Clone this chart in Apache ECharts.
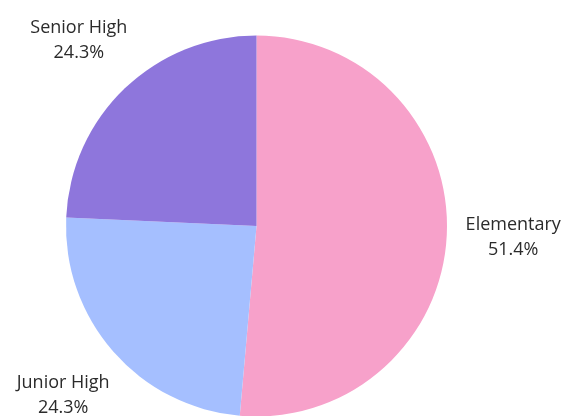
<!DOCTYPE html>
<html>
<head>
<meta charset="utf-8">
<script src="https://cdn.jsdelivr.net/npm/echarts@6/dist/echarts.min.js"></script>
<style>html,body{margin:0;padding:0;background:#fff;}#chart{width:563px;height:416px;}</style>
</head>
<body>
<div id="chart"></div>
<script>
const categories = ['Elementary', 'Junior High', 'Senior High'];
const values = [51.4, 24.3, 24.3];
const colors = ['#F7A1CA', '#A5BFFF', '#8E76DC'];

const pieData = categories.map((c, i) => ({ name: c, value: values[i], itemStyle: { color: colors[i] } }));
const labelData = categories.map((c, i) => ({ name: c, value: values[i] }));

const chart = echarts.init(document.getElementById('chart'));
chart.setOption({
  animation: false,
  series: [
    {
      type: 'pie',
      center: [256.5, 226],
      radius: [0, 190.5],
      startAngle: 90,
      clockwise: true,
      silent: true,
      label: { show: false },
      labelLine: { show: false },
      data: pieData
    },
    {
      type: 'pie',
      center: [256.5, 226],
      radius: [238, 270],
      startAngle: 90,
      clockwise: true,
      silent: true,
      itemStyle: { color: 'rgba(0,0,0,0)' },
      label: {
        show: true,
        position: 'inside',
        color: '#2b2b2b',
        fontFamily: 'Open Sans',
        fontSize: 18,
        lineHeight: 25,
        align: 'center',
        formatter: p => p.name + '\n' + p.value.toFixed(1) + '%'
      },
      labelLine: { show: false },
      data: labelData
    }
  ]
});
</script>
</body>
</html>
